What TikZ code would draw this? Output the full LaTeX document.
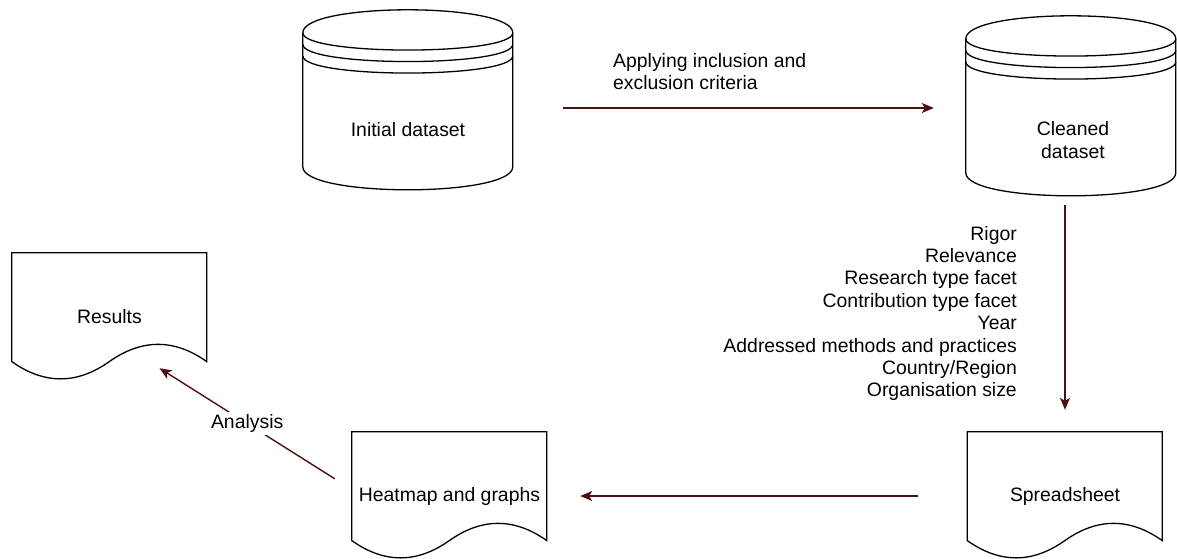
\documentclass[tikz,border=0pt]{standalone}
\usepackage{fontspec}
\setmainfont{Liberation Sans}
\usepackage{tikz}
\usetikzlibrary{arrows.meta,positioning,calc}
\usepackage{xcolor}
\definecolor{flowred}{HTML}{4C1010}
\newcommand{\boxfont}{\fontsize{19.4}{22.4}\selectfont}

% data store outline, drawn on an empty node of 210 x 180
\newcommand{\drawstore}[1]{%
  \begin{scope}[shift={(#1.north west)}]
    \draw[outline] (0,23) .. controls (0,-7.67) and (210,-7.67) .. (210,23) -- (210,157)
      .. controls (210,187.67) and (0,187.67) .. (0,157) -- cycle;
    \draw[outline] (0,23) .. controls (0,46) and (210,46) .. (210,23);
    \draw[outline] (0,34.5) .. controls (0,57.5) and (210,57.5) .. (210,34.5);
    \draw[outline] (0,46) .. controls (0,69) and (210,69) .. (210,46);
  \end{scope}}
% document outline with wavy bottom, node of 195 x 128
\newcommand{\drawdoc}[1]{%
  \draw[outline, shift={(#1.north west)}] (0,0) -- (195,0) -- (195,108.8)
    .. controls (162.5,85.8) and (130,85.8) .. (97.5,108.8)
    .. controls (65,131.8) and (32.5,131.8) .. (0,108.8) -- cycle;}

\begin{document}
\begin{tikzpicture}[
    x=1pt, y=-1pt,
    outline/.style={draw=black, line width=1.3pt},
    store/.style={minimum width=210, minimum height=180, inner sep=0},
    doc/.style={minimum width=195, minimum height=128, inner sep=0, font=\boxfont},
    txt/.style={font=\boxfont, inner sep=0},
    arr/.style={-{Stealth[length=12pt, width=10pt, inset=3pt]}, line width=1.4pt, draw=flowred}
]
\useasboundingbox (0,0) rectangle (1177,558);

\node[store] (init) at (408,100) {};
\node[store] (clean) at (1071,106) {};
\node[doc] (res) at (109.5,317) {Results};
\node[doc] (heat) at (449.5,496) {Heatmap and graphs};
\node[doc] (spread) at (1065,496) {Spreadsheet};
\drawstore{init}
\drawstore{clean}
\drawdoc{res}
\drawdoc{heat}
\drawdoc{spread}

\node[txt] (initlbl) at (408,130) {Initial dataset};
\node[txt, align=center] (cleanlbl) at (1073,140) {Cleaned\\dataset};
\node[txt, align=left, anchor=west] (criteria) at (613,71.5) {Applying inclusion and\\exclusion criteria};
\node[txt, align=right, anchor=east] (facets) at (1017,313.5)
  {Rigor\\Relevance\\Research type facet\\Contribution type facet\\Year\\Addressed methods and practices\\Country/Region\\Organisation size};

\draw[arr] ($(init.east)+(50,8)$) -- ($(clean.west)+(-32,2)$);
\draw[arr, shorten <=9pt, shorten >=22pt] (clean.south -| spread.north) -- (spread.north);
\draw[arr, shorten <=49pt, shorten >=33pt] (spread.west) -- (heat.east);
\draw[arr] ($(heat.north west)+(-17,47)$) -- ($(res.south)+(50,-13)$)
  node[midway, fill=white, font=\boxfont, inner sep=2pt] (analysis) {Analysis};
\end{tikzpicture}
\end{document}
